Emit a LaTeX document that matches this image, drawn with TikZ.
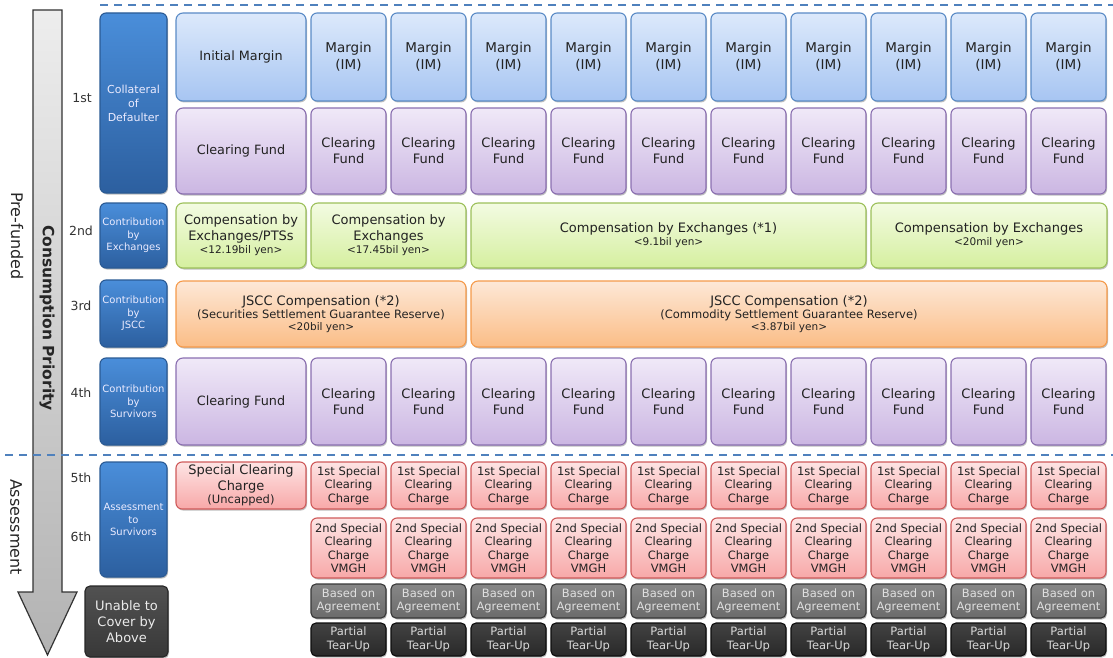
\documentclass[tikz,border=0pt]{standalone}
\usepackage{fontspec}
\setmainfont{DejaVu Sans}
\usetikzlibrary{shadows}
\definecolor{txt}{HTML}{222222}
\definecolor{catT}{HTML}{4A8EDA}
\definecolor{catB}{HTML}{2C5F9F}
\definecolor{catD}{HTML}{2A5A94}
\definecolor{margT}{HTML}{DCE9FB}
\definecolor{margB}{HTML}{A7C5F2}
\definecolor{margD}{HTML}{5A8BC6}
\definecolor{cfT}{HTML}{F0E9F8}
\definecolor{cfB}{HTML}{CBB6E2}
\definecolor{cfD}{HTML}{8A6FB0}
\definecolor{grnT}{HTML}{F3FBE2}
\definecolor{grnB}{HTML}{D5EF9F}
\definecolor{grnD}{HTML}{9CC05A}
\definecolor{orgT}{HTML}{FDE8D7}
\definecolor{orgB}{HTML}{FBBD86}
\definecolor{orgD}{HTML}{F59A4A}
\definecolor{pnkT}{HTML}{FDE4E4}
\definecolor{pnkB}{HTML}{F8A8A8}
\definecolor{pnkD}{HTML}{CF5A5A}
\definecolor{dash}{HTML}{4F81BD}
\newcommand\cellbox[7]{%
  \node[#6, minimum width={#4pt-#2pt}, minimum height={#5pt-#3pt}] (#1)
    at ({(#2+#4)/2},{(#3+#5)/2}) {#7};}
\begin{document}
\begin{tikzpicture}[x=1pt,y=-1pt,
  shad/.style={drop shadow={shadow xshift=1pt, shadow yshift=-1.5pt, opacity=.25, fill=black}},
  base/.style={rounded corners=7pt, line width=1.1pt, align=center, inner sep=0pt, outer sep=0pt,
    text=txt, font=\fontsize{13}{16}\selectfont, shad},
  cat/.style={base, top color=catT, bottom color=catB, draw=catD, text=white!92!blue,
    rounded corners=6pt},
  marg/.style={base, top color=margT, bottom color=margB, draw=margD},
  cf/.style={base, top color=cfT, bottom color=cfB, draw=cfD},
  grn/.style={base, top color=grnT, bottom color=grnB, draw=grnD},
  org/.style={base, top color=orgT, bottom color=orgB, draw=orgD},
  pnk/.style={base, top color=pnkT, bottom color=pnkB, draw=pnkD, rounded corners=6pt,
    font=\fontsize{11.5}{13.5}\selectfont},
  agr/.style={base, top color=black!47, bottom color=black!58, draw=black!78, text=white!88!black,
    rounded corners=5pt, font=\fontsize{11.5}{13.5}\selectfont},
  tear/.style={base, top color=black!74, bottom color=black!84, draw=black!95, text=white!85!black,
    rounded corners=5pt, font=\fontsize{11.5}{14}\selectfont},
  unab/.style={base, top color=black!68, bottom color=black!78, draw=black!85, text=white!92!black,
    rounded corners=5pt},
  rowlab/.style={text=black!80, font=\fontsize{12.5}{15}\selectfont, inner sep=0pt},
  sidelab/.style={rotate=-90, text=black!85, font=\fontsize{16}{18}\selectfont, inner sep=0pt},
  dashline/.style={draw=dash, line width=2.2pt, dash pattern=on 8pt off 6pt}
]
\useasboundingbox (0,0) rectangle (1113,658);

% priority arrow
\draw[line width=1.2pt, draw=black!80, top color=black!7, bottom color=black!30]
  (33,10) -- (62,10) -- (62,592) -- (77,592) -- (47.5,655) -- (18,592) -- (33,592) -- cycle;
\node[rotate=-90, text=black!85, font=\bfseries\fontsize{15.5}{18}\selectfont, inner sep=0pt]
  (cp) at (47,318) {Consumption Priority};
\node[sidelab] (pf) at (17,236) {Pre-funded};
\node[sidelab] (as) at (16,527) {Assessment};

% dashed separators
\coordinate (d1a) at (100,5);   \coordinate (d1b) at (1113,5);
\coordinate (d2a) at (5,455);   \coordinate (d2b) at (1113,455);
\draw[dashline] (d1a) -- (d1b);
\draw[dashline] (d2a) -- (d2b);

% row labels
\node[rowlab] (r1) at (82,98) {1st};
\node[rowlab] (r2) at (81,231) {2nd};
\node[rowlab] (r3) at (81,306) {3rd};
\node[rowlab] (r4) at (81,393) {4th};
\node[rowlab] (r5) at (81,478) {5th};
\node[rowlab] (r6) at (81,537) {6th};

% category boxes
\cellbox{c1}{100}{13}{167}{193}{cat,font=\fontsize{11}{14}\selectfont}{Collateral\\of\\Defaulter}
\cellbox{c2}{100}{203}{167}{268}{cat,font=\fontsize{10}{12.5}\selectfont}{Contribution\\by\\Exchanges}
\cellbox{c3}{100}{280}{167}{347}{cat,font=\fontsize{10}{12.5}\selectfont}{Contribution\\by\\JSCC}
\cellbox{c4}{100}{358}{167}{445}{cat,font=\fontsize{10}{12.5}\selectfont}{Contribution\\by\\Survivors}
\cellbox{c5}{100}{462}{167}{577}{cat,font=\fontsize{10}{12.5}\selectfont}{Assessment\\to\\Survivors}
\cellbox{c6}{85}{586}{168}{657}{unab}{Unable to\\Cover by\\Above}

% first (wide) column
\cellbox{im0}{176}{13}{306}{101}{marg,font=\fontsize{12.8}{15}\selectfont}{Initial Margin}
\cellbox{cfa0}{176}{108}{306}{194}{cf,font=\fontsize{12.8}{15}\selectfont}{Clearing Fund}
\cellbox{cfb0}{176}{358}{306}{445}{cf,font=\fontsize{12.8}{15}\selectfont}{Clearing Fund}
\cellbox{sc0}{176}{462}{306}{509}{pnk,font=\fontsize{13}{15.5}\selectfont}{Special Clearing\\Charge\\[-2pt]{\fontsize{11.5}{13}\selectfont(Uncapped)}}

% compensation by exchanges
\cellbox{ex1}{176}{203}{306}{268}{grn}{Compensation by\\Exchanges/PTSs\\[-3pt]{\fontsize{10.5}{12}\selectfont <12.19bil yen>}}
\cellbox{ex2}{311}{203}{466}{268}{grn}{Compensation by\\Exchanges\\[-3pt]{\fontsize{10.5}{12}\selectfont <17.45bil yen>}}
\cellbox{ex3}{471}{203}{866}{268}{grn}{Compensation by Exchanges (*1)\\[-3pt]{\fontsize{10.5}{12}\selectfont <9.1bil yen>}}
\cellbox{ex4}{871}{203}{1107}{268}{grn}{Compensation by Exchanges\\[-3pt]{\fontsize{10.5}{12}\selectfont <20mil yen>}}

% JSCC compensation
\cellbox{js1}{176}{281}{466}{347}{org}{JSCC Compensation (*2)\\[-3pt]{\fontsize{11.5}{13}\selectfont (Securities Settlement Guarantee Reserve)}\\[-4pt]{\fontsize{10.5}{12}\selectfont <20bil yen>}}
\cellbox{js2}{471}{281}{1107}{347}{org}{JSCC Compensation (*2)\\[-3pt]{\fontsize{11.5}{13}\selectfont (Commodity Settlement Guarantee Reserve)}\\[-4pt]{\fontsize{10.5}{12}\selectfont <3.87bil yen>}}

% narrow columns
\foreach \i [evaluate=\i as \xa using 311+80*\i, evaluate=\i as \xb using 386+80*\i] in {0,...,9} {
  \cellbox{im\i x}{\xa}{13}{\xb}{101}{marg,rounded corners=6pt,font=\fontsize{13.5}{17}\selectfont}{Margin\\(IM)}
  \cellbox{cfa\i x}{\xa}{108}{\xb}{194}{cf,rounded corners=6pt}{Clearing\\Fund}
  \cellbox{cfb\i x}{\xa}{358}{\xb}{445}{cf,rounded corners=6pt}{Clearing\\Fund}
  \cellbox{sa\i x}{\xa}{462}{\xb}{509}{pnk}{1st Special\\Clearing\\Charge}
  \cellbox{sb\i x}{\xa}{518}{\xb}{578}{pnk}{2nd Special\\Clearing\\Charge\\VMGH}
  \cellbox{ag\i x}{\xa}{584}{\xb}{618}{agr}{Based on\\Agreement}
  \cellbox{pt\i x}{\xa}{623}{\xb}{656}{tear}{Partial\\Tear-Up}
}
\end{tikzpicture}
\end{document}
